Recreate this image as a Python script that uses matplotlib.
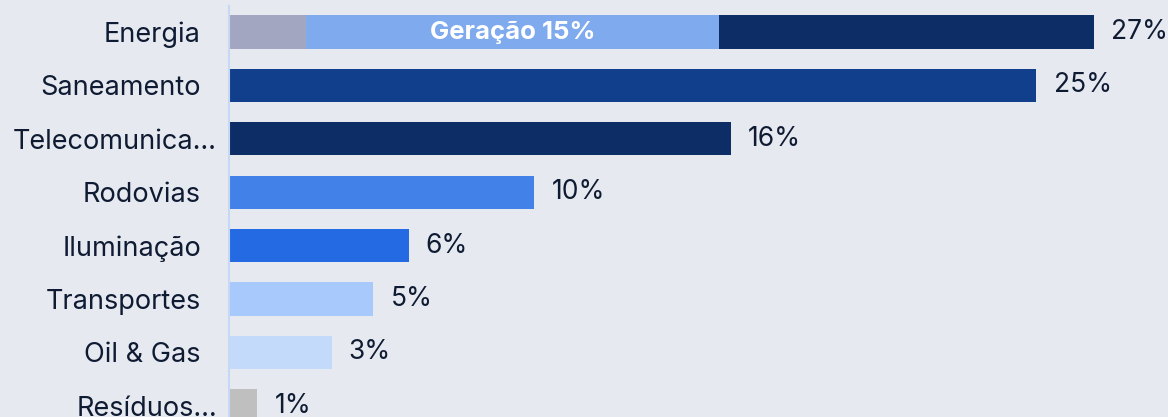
import matplotlib
matplotlib.use("Agg")
import matplotlib.pyplot as plt

categories = ["Energia", "Saneamento", "Telecomunica…", "Rodovias", "Iluminação",
              "Transportes", "Oil & Gas", "Resíduos…"]
values = [26.9, 25.1, 15.6, 9.5, 5.6, 4.5, 3.2, 0.9]
value_labels = ["27%", "25%", "16%", "10%", "6%", "5%", "3%", "1%"]
bar_colors = ["#0d2d66", "#113f8c", "#0d2d66", "#4281e8", "#246be3",
              "#a8c9fc", "#c3dafb", "#bfbfbf"]

# Energia breakdown segments
energia_segments = [2.4, 12.85, 11.65]
energia_seg_colors = ["#a3a6c0", "#7faaee", "#0d2d66"]
geracao_label = "Geração 15%"

bg = "#e6e9ef"
text_color = "#0f1b33"
font = "Inter"

W, H = 1168, 417
fig = plt.figure(figsize=(W / 100, H / 100), dpi=100, facecolor=bg)
left_px, top_px = 228.5, 6
ax_w_px = W - left_px
ax = fig.add_axes([left_px / W, 0, ax_w_px / W, (H - top_px) / H])
ax.set_facecolor(bg)

ypos = list(range(len(categories)))
bh = 0.62
for i, (v, c) in enumerate(zip(values, bar_colors)):
    if i == 0:
        start = 0
        for s, sc in zip(energia_segments, energia_seg_colors):
            ax.barh(i, s, left=start, height=bh, color=sc, edgecolor="none")
            start += s
        gx = energia_segments[0] + energia_segments[1] / 2
        ax.text(gx, i, geracao_label, ha="center", va="center",
                color="white", fontsize=18.5, fontweight="bold", family=font)
    else:
        ax.barh(i, v, height=bh, color=c, edgecolor="none")
    ax.text(v + 0.53, i, value_labels[i], ha="left", va="center",
            color=text_color, fontsize=19, family=font)

# category labels (truncated ones overhang toward the axis)
ytrans = ax.get_yaxis_transform()
for i, cat in enumerate(categories):
    off = 11.5 if cat.endswith("…") else 27.5
    ax.text(-off / ax_w_px, i, cat, transform=ytrans, ha="right",
            va="center_baseline", fontsize=19.5, color=text_color, family=font,
            clip_on=False)

ax.set_xlim(0, ax_w_px / 32.19)
ax.set_ylim(7.21, -0.487)
ax.set_yticks([])
ax.set_xticks([])
for s in ["top", "right", "bottom"]:
    ax.spines[s].set_visible(False)
ax.spines["left"].set_color("#c5d8f5")
ax.spines["left"].set_linewidth(1.5)

fig.savefig("out.png", dpi=100, facecolor=bg)
